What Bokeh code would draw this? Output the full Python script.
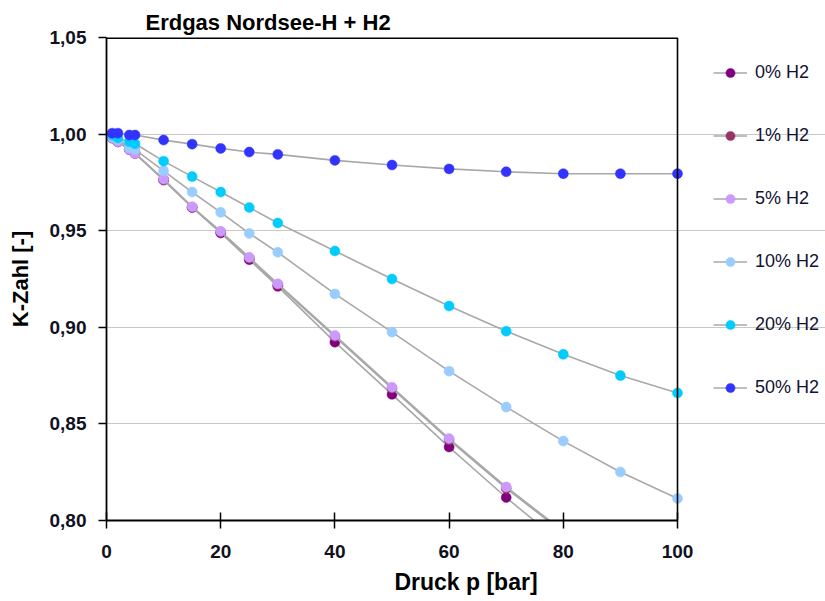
from bokeh.plotting import figure
from bokeh.models import Range1d, FixedTicker, CustomJSTickFormatter, Legend, LegendItem, Span
from bokeh.embed import file_html
from bokeh.resources import INLINE

# ---- data ----
pressure_low = [1, 2, 4, 5, 10, 15, 20, 25, 30, 40, 50, 60, 70, 80]
pressure_full = [1, 2, 4, 5, 10, 15, 20, 25, 30, 40, 50, 60, 70, 80, 90, 100]

k_h2_0 = [0.998, 0.996, 0.992, 0.990, 0.9762, 0.9620, 0.9488, 0.9350, 0.9212,
          0.8923, 0.8653, 0.8380, 0.8119, 0.7875]
k_h2_1 = [0.998, 0.996, 0.992, 0.990, 0.9764, 0.9621, 0.9493, 0.9358, 0.9220,
          0.8952, 0.8684, 0.8417, 0.8166, 0.7938]
k_h2_5 = [0.998, 0.996, 0.992, 0.990, 0.9767, 0.9624, 0.9497, 0.9362, 0.9225,
          0.8958, 0.8690, 0.8424, 0.8174, 0.7945]
k_h2_10 = [0.9985, 0.997, 0.993, 0.992, 0.981, 0.970, 0.9595, 0.9486, 0.9388,
           0.9173, 0.8975, 0.8773, 0.8587, 0.8411, 0.8251, 0.8114]
k_h2_20 = [0.9995, 0.998, 0.996, 0.995, 0.986, 0.978, 0.970, 0.962, 0.954,
           0.9395, 0.925, 0.911, 0.898, 0.886, 0.875, 0.866]
k_h2_50 = [1.0005, 1.0005, 0.9995, 0.9995, 0.9969, 0.9948, 0.9926, 0.9907, 0.9895,
           0.9864, 0.984, 0.982, 0.9805, 0.9795, 0.9795, 0.9795]

series_labels = ["0% H2", "1% H2", "5% H2", "10% H2", "20% H2", "50% H2"]
series_x = [pressure_low, pressure_low, pressure_low, pressure_full, pressure_full, pressure_full]
series_y = [k_h2_0, k_h2_1, k_h2_5, k_h2_10, k_h2_20, k_h2_50]
series_colors = ["#800080", "#993366", "#CC99FF", "#99CCFF", "#00CCFF", "#3333FF"]

x_ticks = [0, 20, 40, 60, 80, 100]
y_ticks = [0.80, 0.85, 0.90, 0.95, 1.00, 1.05]
x_min, x_max = 0, 100
y_min, y_max = 0.80, 1.05

FONT = "Liberation Sans"

W, H = 825, 600
LEFT, TOP, BOTTOM = 106, 37, 80
PLOT_W = 571  # pixel width of the 0..100 plotting area
frame_w = W - LEFT
x_end = x_max * frame_w / PLOT_W  # extra frame room on the right holds the legend

p = figure(width=W, height=H, output_backend="svg", toolbar_location=None,
           x_range=Range1d(x_min, x_end), y_range=Range1d(y_min, y_max),
           min_border_left=LEFT, min_border_right=0, min_border_top=TOP,
           min_border_bottom=BOTTOM, title="Erdgas Nordsee-H + H2")

p.title.text_font = FONT
p.title.text_font_size = "22px"
p.title.text_font_style = "bold"
p.title.align = "left"
p.title.offset = 39
p.title.standoff = 6
p.title.text_color = "#000000"

p.outline_line_color = None
p.background_fill_color = "white"

p.xgrid.visible = False
p.ygrid.grid_line_color = "#c8c8c8"
p.ygrid.grid_line_width = 1.2
p.ygrid.ticker = FixedTicker(ticks=y_ticks[:-1])
p.ygrid.bounds = (x_min, x_max)

# plot-area border (top and right)
p.segment(x0=[x_min], y0=[y_max], x1=[x_max], y1=[y_max], line_color="#000000", line_width=3)
p.add_layout(Span(location=x_max, dimension="height", line_color="#000000", line_width=1.6))

p.xaxis.ticker = FixedTicker(ticks=x_ticks)
p.xaxis.bounds = (x_min, x_max)
p.yaxis.ticker = FixedTicker(ticks=y_ticks)
p.yaxis.formatter = CustomJSTickFormatter(code="return tick.toFixed(2).replace('.', ',');")

for ax in (p.xaxis[0], p.yaxis[0]):
    ax.axis_line_color = "#000000"
    ax.axis_line_width = 1.8
    ax.major_tick_line_color = "#000000"
    ax.major_tick_line_width = 1.5
    ax.minor_tick_line_color = None
    ax.major_label_text_font = FONT
    ax.major_label_text_font_style = "bold"
    ax.major_label_text_color = "#111122"
    ax.axis_label_text_font = FONT
    ax.axis_label_text_font_style = "bold"
    ax.axis_label_text_color = "#000000"

p.xaxis.major_tick_in = 8
p.xaxis.major_tick_out = 8
p.xaxis.major_label_text_font_size = "19px"
p.xaxis.major_label_standoff = 16
p.xaxis.axis_label = "Druck p [bar]"
p.xaxis.axis_label_text_font_size = "23px"
p.xaxis.axis_label_standoff = 8

p.yaxis.major_tick_in = 0
p.yaxis.major_tick_out = 8
p.yaxis.major_label_text_font_size = "19px"
p.yaxis.major_label_standoff = 12
p.yaxis.axis_label = "K-Zahl [-]"
p.yaxis.axis_label_text_font_size = "22px"
p.yaxis.axis_label_standoff = 14

items = []
for lab, xs, ys, col in zip(series_labels, series_x, series_y, series_colors):
    ln = p.line(xs, ys, line_color="#a8a8a8", line_width=1.6)
    sc = p.scatter(xs, ys, size=10, fill_color=col, line_color=col, line_width=0.5)
    items.append(LegendItem(label=lab, renderers=[ln, sc]))

legend = Legend(items=items, location=(607, 121))
legend.label_text_font = FONT
legend.label_text_font_size = "18px"
legend.label_text_color = "#111133"
legend.glyph_width = 34
legend.glyph_height = 23
legend.label_standoff = 8
legend.spacing = 40
legend.padding = 0
legend.margin = 0
legend.border_line_color = None
legend.background_fill_alpha = 0
p.add_layout(legend, "center")

open("out.html", "w").write(file_html(p, INLINE))
